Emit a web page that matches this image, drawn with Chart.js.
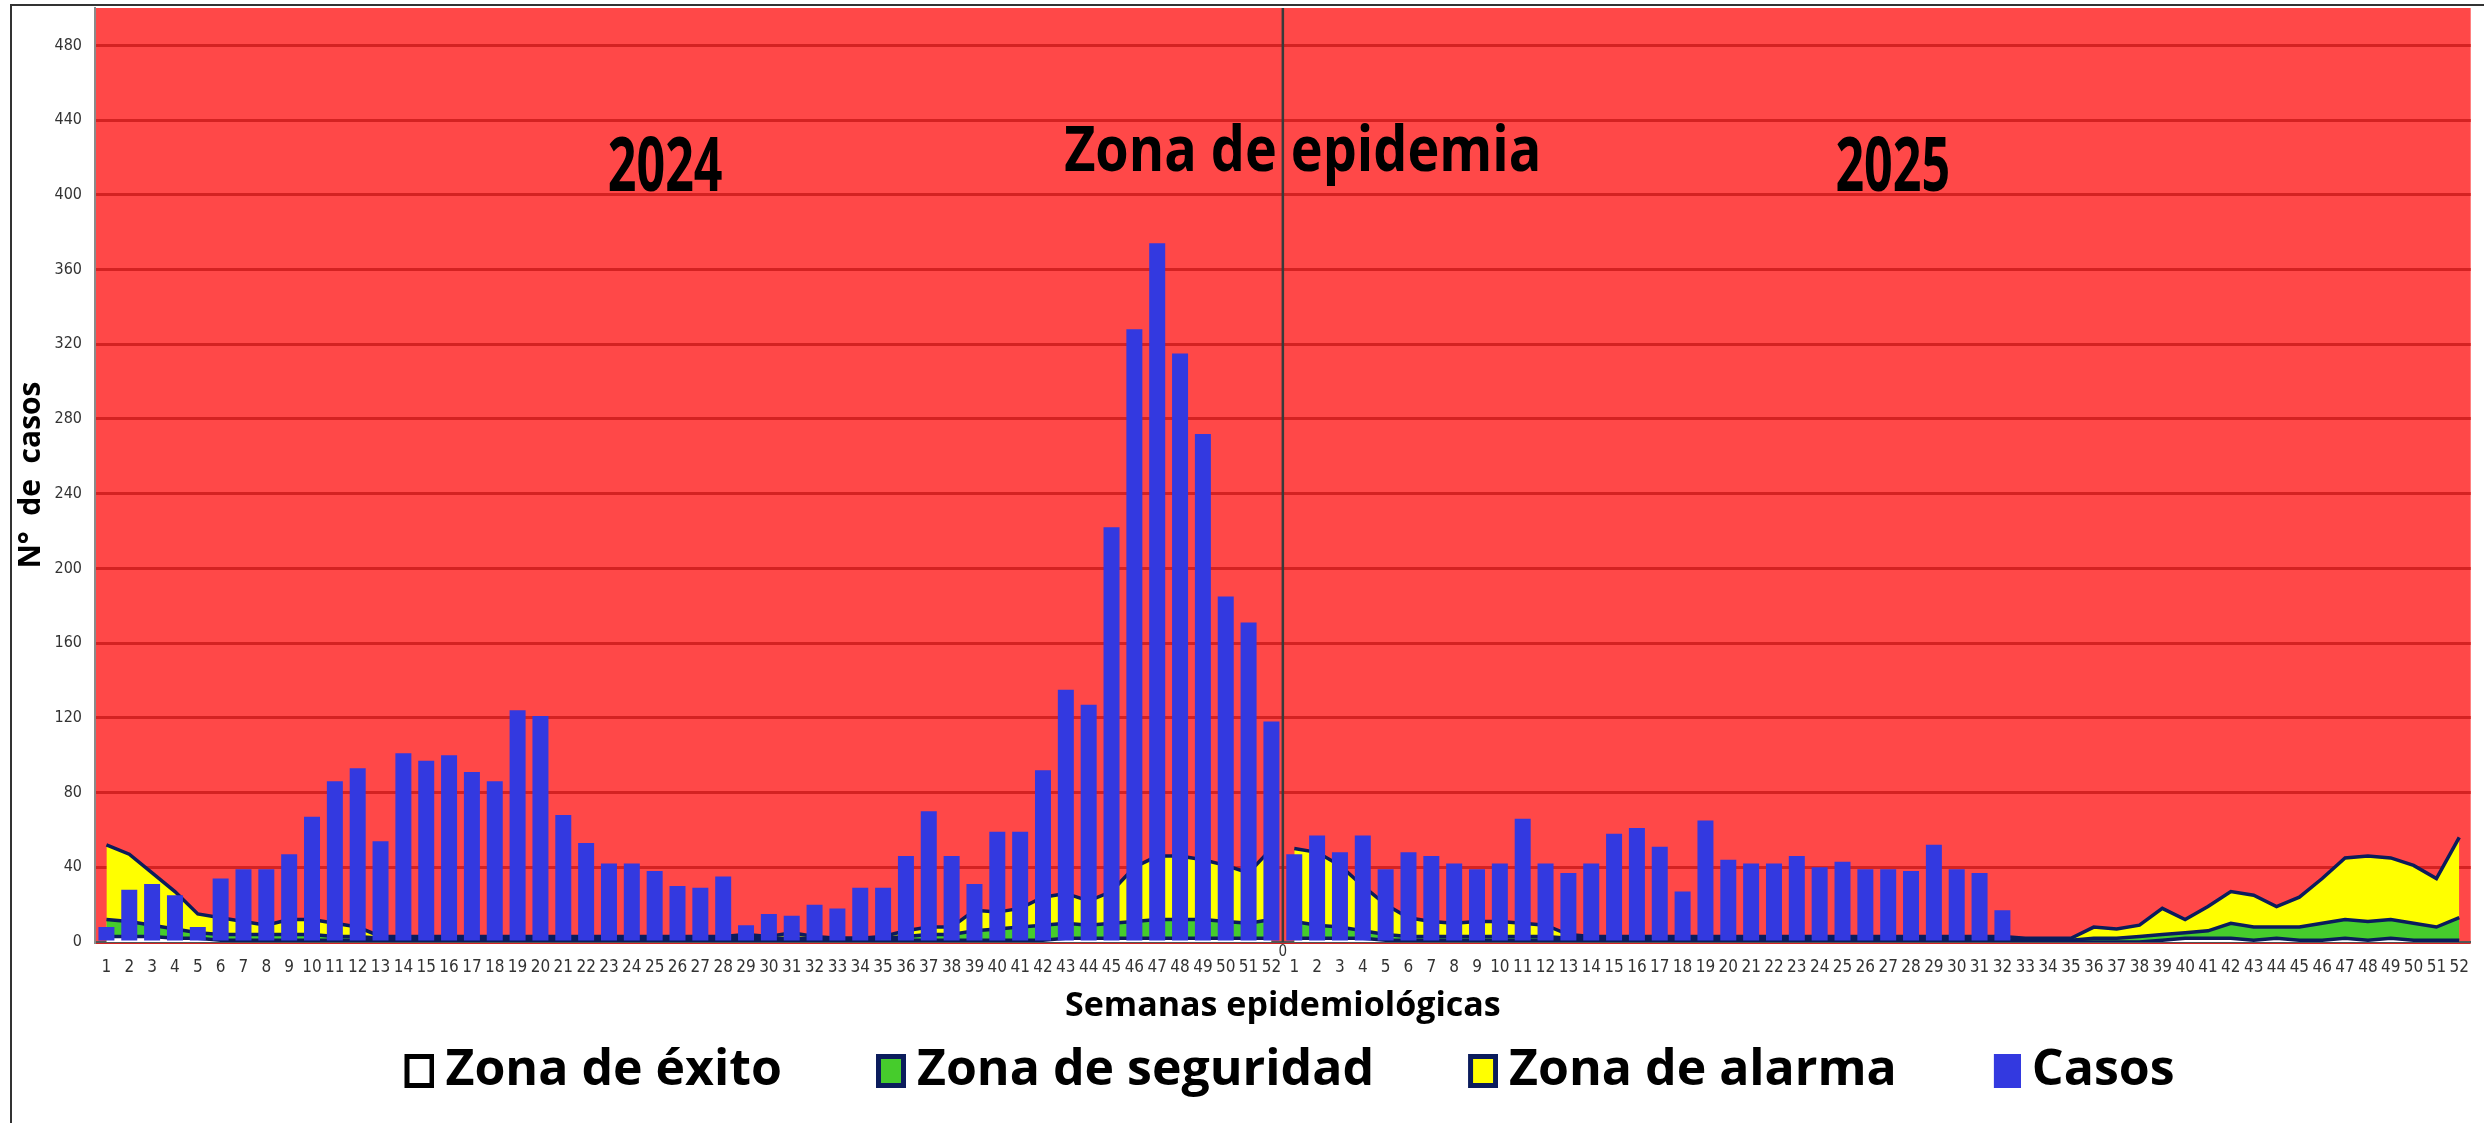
<!DOCTYPE html>
<html>
<head>
<meta charset="utf-8">
<script src="https://cdn.jsdelivr.net/npm/chart.js@4.4.1/dist/chart.umd.min.js"></script>
<style>
  html, body { margin: 0; padding: 0; background: #fff; }
  canvas { display: block; }
</style>
</head>
<body>
<canvas id="canal" width="2484" height="1123"></canvas>
<script>
// semanas epidemiológicas (se repiten para 2024 y 2025)
const semanas = ['1','2','3','4','5','6','7','8','9','10','11','12','13','14','15','16','17','18','19','20',
  '21','22','23','24','25','26','27','28','29','30','31','32','33','34','35','36','37','38','39','40',
  '41','42','43','44','45','46','47','48','49','50','51','52'];

// casos notificados
const casos2024 = [8,28,31,25,8,34,39,39,47,67,86,93,54,101,97,100,91,86,124,121,68,53,42,42,38,30,29,35,9,15,
  14,20,18,29,29,46,70,46,31,59,59,92,135,127,222,328,374,315,272,185,171,118];
const casos2025 = [47,57,48,57,39,48,46,42,39,42,66,42,37,42,58,61,51,27,65,44,42,42,46,40,43,39,39,38,52,39,37,17];

// canal endémico 2024
const alarma2024 = [52,47,37,27,15,13,11,9,12,12,10,8,3,3,3,3,3,3,3,3,3,3,3,3,3,3,3,3,4,3,
  5,3,2,2,3,6,8,8,17,16,18,24,26,22,27,40,46,46,44,41,37,50];
const seguridad2024 = [12,11,9,7,5,4,4,4,4,4,3,3,2,2,2,2,2,2,2,2,2,2,2,2,2,2,2,2,2,2,
  2,2,2,2,2,3,4,4,6,7,8,9,10,9,10,11,12,12,12,11,10,12];
const exito2024 = [3,3,3,2,2,1,1,1,1,1,1,1,1,1,1,1,1,1,1,1,1,1,1,1,1,1,1,1,1,1,
  1,1,1,1,1,1,1,1,1,1,1,1,2,2,2,2,2,2,2,2,2,2];

// canal endémico 2025
const alarma2025 = [50,48,41,30,20,13,11,10,11,11,10,9,4,3,3,3,3,3,3,3,3,3,3,3,3,3,3,3,3,3,
  3,3,2,2,2,8,7,9,18,12,19,27,25,19,24,34,45,46,45,41,34,56];
const seguridad2025 = [11,9,8,6,4,3,3,3,3,3,3,3,2,2,2,2,2,2,2,2,2,2,2,2,2,2,2,2,2,2,
  2,1,1,1,1,2,2,3,4,5,6,10,8,8,8,10,12,11,12,10,8,13];
const exito2025 = [2,2,2,2,1,1,1,1,1,1,1,1,1,1,1,1,1,1,1,1,1,1,1,1,1,1,1,1,1,1,
  1,0,0,0,0,0,0,0,1,2,2,2,1,2,1,1,2,1,2,1,1,1];

const yMax = 500;
const yPaso = 40;

const ROJO = '#FF4848';
const AZUL = '#3339E0';
const VERDE = '#46CC2C';
const AMARILLO = '#FFFF00';
const MARINO = '#0B1C5C';
const angosta = "'DejaVu Sans Condensed', 'Liberation Sans Narrow', sans-serif";

const vacio = new Array(52).fill(null);

function zona(label, data, color, order) {
  return {
    type: 'line', label, data, order,
    backgroundColor: color, borderColor: MARINO, borderWidth: 3.5,
    fill: 'origin', pointRadius: 0, tension: 0, spanGaps: false
  };
}

// cuadritos de la leyenda (espacio a la izquierda para separar los items)
function icono(relleno, borde, ancho) {
  const c = document.createElement('canvas');
  c.width = 128; c.height = 36;
  const g = c.getContext('2d');
  if (borde) {
    g.fillStyle = borde;
    g.fillRect(128 - ancho, 1, ancho, 34);
    g.fillStyle = relleno;
    g.fillRect(128 - ancho + 5, 6, ancho - 10, 24);
  } else {
    g.fillStyle = relleno;
    g.fillRect(128 - ancho, 1, ancho, 34);
  }
  return c;
}

const itemsLeyenda = [
  { text: 'Zona de éxito', ds: 5, icon: icono('#FFFFFF', '#000000', 30) },
  { text: 'Zona de seguridad', ds: 3, icon: icono(VERDE, MARINO, 30) },
  { text: 'Zona de alarma', ds: 1, icon: icono(AMARILLO, MARINO, 30) },
  { text: 'Casos', ds: 0, icon: icono(AZUL, null, 27) }
];

// textos sobre el gráfico: posición en semana (índice) y valor del eje
const rotulos = [
  { text: '2024', idx: 24.46, val: 402, size: 76, sx: 0.66 },
  { text: 'Zona de epidemia', idx: 52.37, val: 413, size: 62, sx: 0.87 },
  { text: '2025', idx: 78.2, val: 402, size: 76, sx: 0.66 }
];

const decorado = {
  id: 'decorado',
  beforeDraw(chart) {
    const { ctx, chartArea: a } = chart;
    ctx.save();
    ctx.fillStyle = ROJO;
    ctx.fillRect(a.left, a.top, a.right - a.left, a.bottom - a.top);
    ctx.restore();
  },
  afterDatasetsDraw(chart) {
    const { ctx, chartArea: a, scales: { x, y } } = chart;
    ctx.save();
    ctx.fillStyle = '#000';
    ctx.textAlign = 'center';
    ctx.textBaseline = 'alphabetic';
    rotulos.forEach(r => {
      ctx.save();
      ctx.translate(x.getPixelForValue(r.idx), y.getPixelForValue(r.val));
      ctx.scale(r.sx, 1);
      ctx.font = 'bold ' + r.size + "px 'Open Sans', sans-serif";
      ctx.fillText(r.text, 0, 0);
      ctx.restore();
    });
    // división entre los dos años
    const xd = x.getPixelForValue(51.5);
    ctx.strokeStyle = '#3A3A3A';
    ctx.lineWidth = 2.5;
    ctx.beginPath();
    ctx.moveTo(xd, a.top);
    ctx.lineTo(xd, a.bottom);
    ctx.stroke();
    ctx.fillStyle = '#333';
    ctx.font = '15px ' + angosta;
    ctx.textBaseline = 'middle';
    ctx.fillText('0', xd, a.bottom + 10);
    ctx.restore();
  },
  afterDraw(chart) {
    const { ctx, width, height } = chart;
    ctx.save();
    ctx.strokeStyle = '#333';
    ctx.lineWidth = 2;
    ctx.beginPath();
    ctx.moveTo(11, height);
    ctx.lineTo(11, 5);
    ctx.lineTo(width, 5);
    ctx.stroke();
    ctx.restore();
  }
};

new Chart(document.getElementById('canal'), {
  data: {
    labels: semanas.concat(semanas),
    datasets: [
      { type: 'bar', label: 'Casos', data: casos2024.concat(casos2025), backgroundColor: AZUL,
        order: 0, barPercentage: 0.7, categoryPercentage: 1 },
      zona('Zona de alarma', alarma2024.concat(vacio), AMARILLO, 3),
      zona('Zona de alarma', vacio.concat(alarma2025), AMARILLO, 3),
      zona('Zona de seguridad', seguridad2024.concat(vacio), VERDE, 2),
      zona('Zona de seguridad', vacio.concat(seguridad2025), VERDE, 2),
      zona('Zona de éxito', exito2024.concat(vacio), '#FFFFFF', 1),
      zona('Zona de éxito', vacio.concat(exito2025), '#FFFFFF', 1)
    ]
  },
  options: {
    responsive: false,
    animation: false,
    layout: { padding: { left: 12, right: 1, top: 8, bottom: 17 } },
    plugins: {
      tooltip: { enabled: false },
      legend: {
        position: 'bottom',
        labels: {
          usePointStyle: true,
          pointStyleWidth: 100,
          padding: 10,
          color: '#000',
          font: { family: "'Open Sans', sans-serif", weight: 'bold', size: 50 },
          generateLabels: () => itemsLeyenda.map(it => ({
            text: it.text, pointStyle: it.icon, datasetIndex: it.ds,
            hidden: false, lineWidth: 0, strokeStyle: 'transparent', fillStyle: 'transparent'
          }))
        }
      }
    },
    scales: {
      x: {
        ticks: { autoSkip: false, maxRotation: 0, minRotation: 0, padding: 15, color: '#333',
          font: { family: angosta, size: 17 } },
        grid: { display: false, drawTicks: false },
        border: { color: '#555', width: 2 },
        title: { display: true, text: 'Semanas epidemiológicas', color: '#000',
          font: { family: "'Open Sans', sans-serif", weight: 'bold', size: 34 },
          padding: { top: 4, bottom: 9 } },
        afterFit: s => { s.height = 94; }
      },
      y: {
        min: 0, max: yMax,
        ticks: { stepSize: yPaso, padding: 13, color: '#333', font: { family: angosta, size: 16 },
          callback: v => (v % yPaso === 0 ? v : null) },
        grid: { color: '#D42222', lineWidth: 3, drawTicks: false },
        border: { color: '#8A8A8A', width: 2 },
        title: { display: true, text: 'N°  de  casos', color: '#000',
          font: { family: "'Open Sans', sans-serif", weight: 'bold', size: 30 },
          padding: { top: 1, bottom: 0 } },
        afterFit: s => { s.width = 83; s.paddingTop = 0; s.paddingBottom = 0; }
      }
    }
  },
  plugins: [decorado]
});
</script>
</body>
</html>
